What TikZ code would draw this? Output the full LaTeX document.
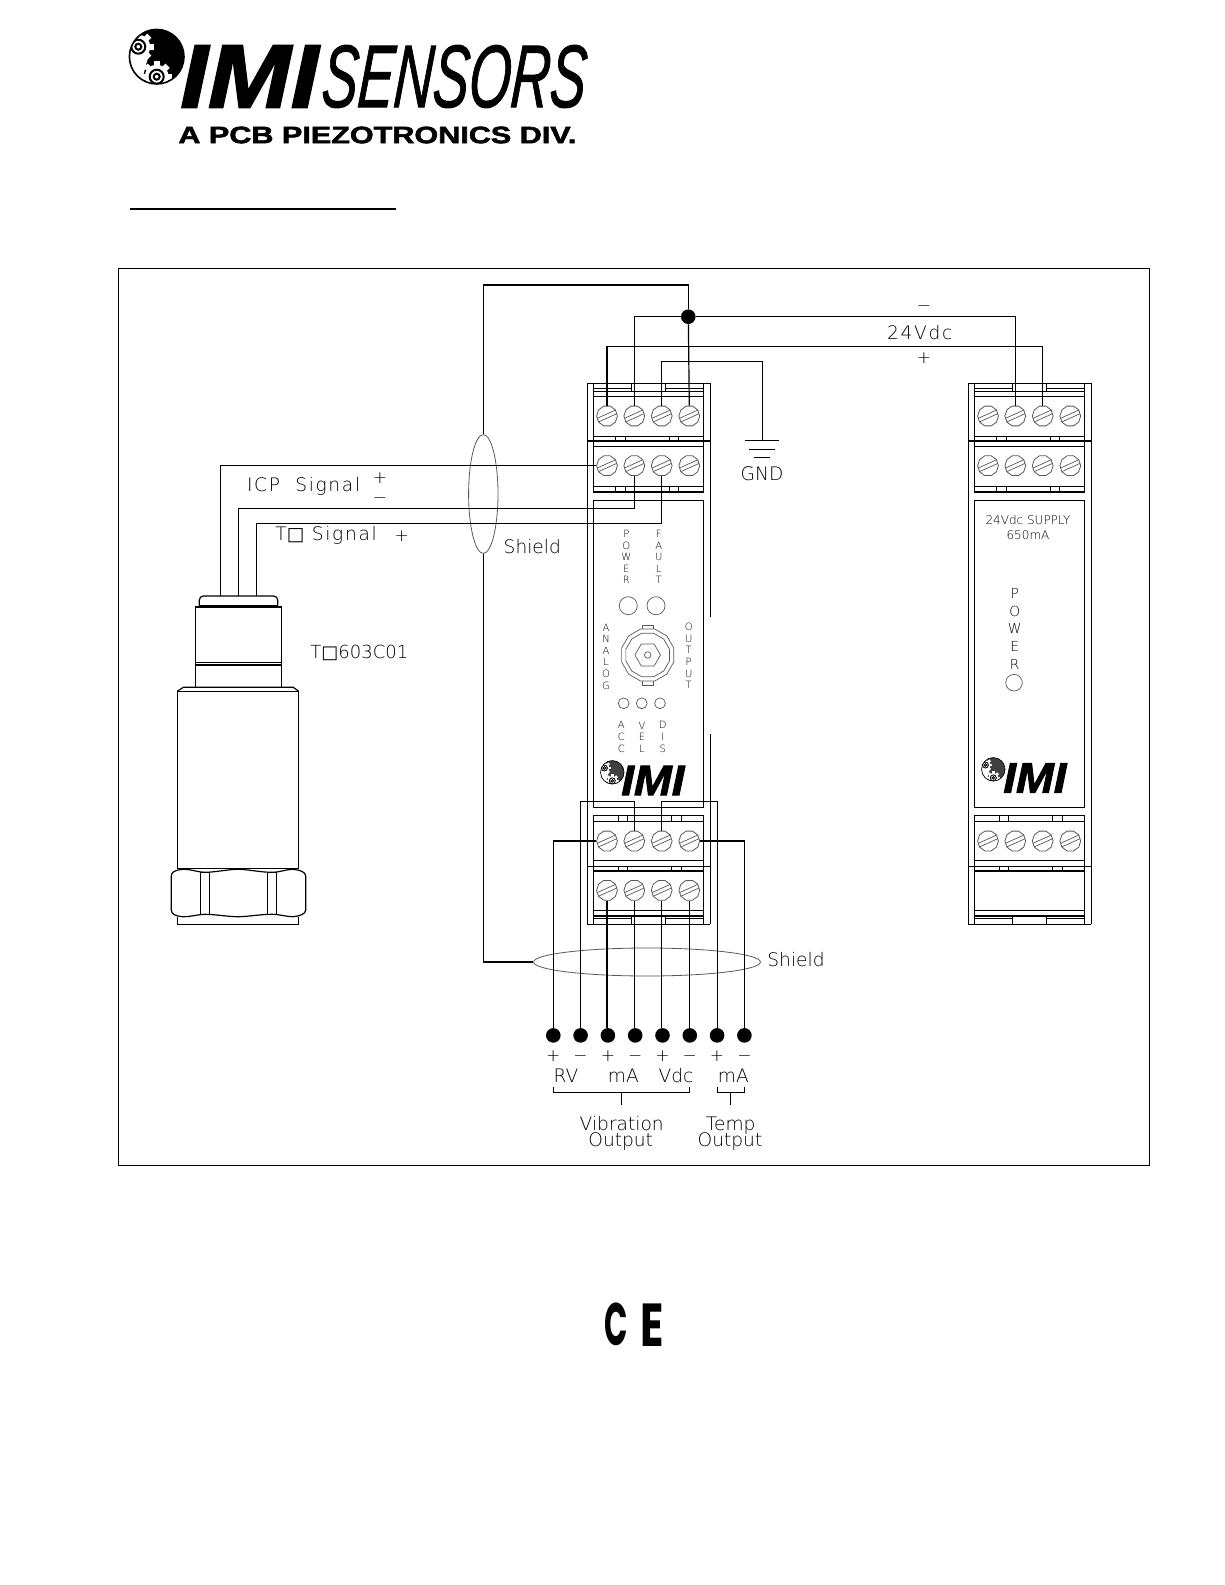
\documentclass[tikz,border=0pt]{standalone}
\usepackage{fontspec}
\setmainfont{DejaVu Sans ExtraLight}
\newfontfamily\boxfont{DejaVu Sans}
\newfontfamily\logofont[FakeBold=1.2,FakeSlant=0.12]{Liberation Sans}
\newfontfamily\imifont[FakeBold=2]{Liberation Sans}
\newfontfamily\markfont{Poppins}
\usetikzlibrary{matrix, shapes.geometric}

\newcommand{\railmodule}[2]{%
  \begin{scope}[xshift = #1*0.5pt]
    \draw[frame] (587.3,383.3) -- (710.3,383.3) (587.3,924.3) -- (710.3,924.3);
    \foreach \ly in {391.3,396.3,436.3,446.3,486.7,492,500.3,807.3,815.3,821.3,860.3,871,910.3,916}
      \draw[frame] (593.3,\ly) -- (703.7,\ly);
    \foreach \ly in {441,866.3}
      \draw[frame] (587.3,\ly) -- (710.3,\ly);
    \foreach \lx in {593.3,703.7}
      \draw[frame] (\lx,383.3) -- (\lx,492) (\lx,500.3) -- (\lx,807.3) (\lx,815.3) -- (\lx,924.3);
    \foreach \lx in {615.3,625.3,669.7,678.3}
      \draw[frame] (\lx,436.3) -- (\lx,441) (\lx,486.7) -- (\lx,492);
    \foreach \lx in {618.3,627.7,671.7,681.7}
      \draw[frame] (\lx,815.3) -- (\lx,821.3) (\lx,866.3) -- (\lx,871);
    \draw[frame] (593.3,388.3) -- (631.3,388.3) (631.3,383.3) -- (631.3,391.3)
                 (665.3,383.3) -- (665.3,391.3) (665.3,388.3) -- (703.7,388.3);
    \draw[frame] (593.3,918.3) -- (631.7,918.3) (631.7,916) -- (631.7,924.3)
                 (665.7,916) -- (665.7,924.3) (665.7,918.3) -- (703.7,918.3);
    \foreach \r/\ry in {1/416,2/465.7,3/841}
      \foreach \c/\cx in {1/607,2/634.3,3/661.7,4/689.3}
        \node[screwhead] (#2-\r-\c) at (\cx,\ry) {};
  \end{scope}}

\newcommand{\gearbadge}[4]{%
  \begin{scope}[shift = {(#1,#2)}, scale = #3]
    \begin{scope}
      \clip (0,0) circle (27.3);
      \fill[#4] (0,0) circle (27.3);
      \fill[white] (-28,-6) -- (-8,-2) -- (-16,28) -- (-28,28) -- cycle;
      \foreach \gx/\gy in {-18.4/-10,0/20} {
        \fill[white] (\gx,\gy) circle (12);
        \foreach \ga in {0,45,...,315}
          \fill[white, shift = {(\gx,\gy)}, rotate = \ga] (-3,9) rectangle (3,15.5);
        \draw[black, line width = #3*1pt] (\gx,\gy) circle (7) (\gx,\gy) circle (3);
      }
    \end{scope}
    \draw[black, line width = #3*0.8pt] (0,0) circle (27.3);
  \end{scope}}

\begin{document}
\begin{tikzpicture}[x = 0.5pt, y = -0.5pt,
    wire/.style = {line width = 0.6pt, black},
    frame/.style = {line width = 0.6pt, black},
    thin part/.style = {line width = 0.35pt, black!65},
    screwhead/.style = {regular polygon, regular polygon sides = 10, draw = black!65, line width = 0.4pt,
      minimum size = 10.4pt, inner sep = 0pt,
      path picture = {
        \draw[black!65, line width = 0.35pt] ([shift = {(-5.2pt,-3.4pt)}]path picture bounding box.center) -- ([shift = {(5.2pt,1.3pt)}]path picture bounding box.center);
        \draw[black!65, line width = 0.35pt] ([shift = {(-5.2pt,-1.3pt)}]path picture bounding box.center) -- ([shift = {(5.2pt,3.4pt)}]path picture bounding box.center);
      }},
    terminal/.style = {circle, fill = black, minimum size = 7.3pt, inner sep = 0pt},
    signmark/.style = {font = \fontsize{8.5}{9}\selectfont, minimum width = 7.3pt, inner sep = 0pt, text height = 5pt, text depth = 0pt},
    cadlabel/.style = {inner sep = 0pt, text = black, font = \fontsize{9.3}{9}\selectfont},
    widelabel/.style = {inner sep = 0pt, text = black, font = \fontsize{9.3}{9}\selectfont\addfontfeature{LetterSpace = 9}},
    signlabel/.style = {inner sep = 0pt, text = black, font = \fontsize{8.5}{9}\selectfont},
    paneltext/.style = {inner sep = 0pt, text = black, align = center, font = \fontsize{5}{5.8}\selectfont},
    led/.style = {circle, draw = black!65, line width = 0.35pt, inner sep = 0pt},
    shieldloop/.style = {ellipse, draw = black!65, line width = 0.4pt, inner sep = 0pt}]
  \useasboundingbox (0,0) rectangle (1225,1585);

  \gearbadge{156.7}{56.7}{1}{black}
  \node[anchor = west, inner sep = 0pt] (logo imi) at (180,76.5) {\resizebox{69pt}{31pt}{\imifont\bfseries\itshape IMI}};
  \node[anchor = west, inner sep = 0pt] (logo sensors) at (320,76.5) {\resizebox{132pt}{31pt}{\logofont\itshape SENSORS}};
  \node[anchor = west, inner sep = 0pt] (logo div) at (178,135) {\resizebox{199pt}{8.3pt}{\imifont\bfseries A PCB PIEZOTRONICS DIV.}};
  \draw[line width = 1pt] (130,209) -- (396,209);
  \draw[line width = 0.5pt] (118.5,268) rectangle (1149,1165);

  \railmodule{0}{a}
  \railmodule{381}{b}
  \foreach \c/\cx in {1/607,2/634.3,3/661.7,4/689.3}
    \node[screwhead] (a-4-\c) at (\cx,890.3) {};
  \draw[frame] (587.3,383.3) -- (587.3,924.3);
  \draw[frame] (710.3,383.3) -- (710.3,616.7) (710.3,734) -- (710.3,924.3);
  \draw[frame] (968.3,383.3) -- (968.3,924.3);
  \draw[frame] (1091.3,383.3) -- (1091.3,924.3);

  \node[paneltext] (a power) at (626.3,557) {P\\O\\W\\E\\R};
  \node[paneltext] (a fault) at (658.7,557) {F\\A\\U\\L\\T};
  \node[led, minimum size = 9pt] (led power) at (628.3,605.7) {};
  \node[led, minimum size = 9pt] (led fault) at (656,605.7) {};
  \node[paneltext] (a analog) at (606,656.5) {A\\N\\A\\L\\O\\G};
  \node[paneltext] (a output) at (688.7,656) {O\\U\\T\\P\\U\\T};
  \draw[thin part] (642.3,629) -- (642.3,625.3) -- (653.3,625.3) -- (653.3,629);
  \draw[thin part] (642.3,681) -- (642.3,685.7) -- (653.3,685.7) -- (653.3,681);
  \node[regular polygon, regular polygon sides = 12, draw = black!65, line width = 0.35pt, inner sep = 0pt, minimum size = 27pt] (bnc rim) at (647.7,655) {};
  \node[regular polygon, regular polygon sides = 12, draw = black!65, line width = 0.35pt, inner sep = 0pt, minimum size = 22.6pt] (bnc nut) at (647.7,655) {};
  \node[regular polygon, regular polygon sides = 6, draw = black!65, line width = 0.35pt, inner sep = 0pt, minimum size = 12.8pt] (bnc hex) at (647.7,655) {};
  \node[led, minimum size = 3.3pt] (bnc pin) at (647.7,655) {};
  \node[led, minimum size = 5.4pt] (led acc) at (623.7,703.3) {};
  \node[led, minimum size = 5.4pt] (led vel) at (641.7,703.3) {};
  \node[led, minimum size = 5.4pt] (led dis) at (660,703.3) {};
  \node[paneltext] (a acc) at (621.3,737) {A\\C\\C};
  \node[paneltext] (a vel) at (642,737) {V\\E\\L};
  \node[paneltext] (a dis) at (662.7,737) {D\\I\\S};
  \gearbadge{612.3}{772.3}{0.43}{black!75}
  \node[anchor = west, inner sep = 0pt] (a imi) at (621,780.5) {\resizebox{31.5pt}{14.6pt}{\imifont\bfseries\itshape IMI}};

  \node[inner sep = 0pt, text = black, font = \fontsize{6}{7.4}\selectfont, align = center] (b rating) at (1028,527.5) {24Vdc SUPPLY\\650mA};
  \node[paneltext, font = \fontsize{6.9}{8.85}\selectfont] (b power) at (1014.7,628.7) {P\\O\\W\\E\\R};
  \node[led, minimum size = 8.3pt] (led supply) at (1014,682.7) {};
  \gearbadge{993.3}{769.3}{0.43}{black!75}
  \node[anchor = west, inner sep = 0pt] (b imi) at (1003,778) {\resizebox{31.5pt}{14.6pt}{\imifont\bfseries\itshape IMI}};

  \draw[frame, rounded corners = 2pt] (199.3,605.3) -- (199.3,596) -- (277.7,596) -- (277.7,605.3);
  \draw[frame] (199.3,605.3) -- (277.7,605.3);
  \draw[frame] (195.3,687.3) -- (195.3,607) -- (281.7,607) -- (281.7,687.3);
  \draw[frame] (195.3,662.7) -- (281.7,662.7) (195.3,665) -- (281.7,665);
  \draw[frame] (177.3,691.3) -- (183.3,687.3) -- (293.3,687.3) -- (298.7,691.3);
  \draw[frame] (177.3,868.3) -- (177.3,691.3) -- (298.7,691.3) -- (298.7,868.3) -- cycle;
  \draw[frame] (171.3,910) -- (171.3,876) .. controls (171.3,872) and (175,870) .. (183,869.3)
    .. controls (192,869.3) and (198,872.3) .. (205,872.3) .. controls (215,872.3) and (228,869.3) .. (238,869.3)
    .. controls (248,869.3) and (260,872.3) .. (272,872.3) .. controls (280,872.3) and (286,869.3) .. (293,869.3)
    .. controls (300,870) and (305.7,872) .. (305.7,876) -- (305.7,910)
    .. controls (305.7,914) and (300,916) .. (293,916.7) .. controls (286,916.7) and (280,914.3) .. (272,914.3)
    .. controls (260,914.3) and (248,916.7) .. (238,916.7) .. controls (228,916.7) and (215,914.3) .. (205,914.3)
    .. controls (198,914.3) and (192,916.7) .. (183,916.7) .. controls (175,916) and (171.3,914) .. (171.3,910) -- cycle;
  \draw[frame] (200.3,872.3) rectangle (209.7,914.3);
  \draw[frame] (267.3,872.3) rectangle (276.7,914.3);
  \draw[frame] (177.3,916.7) -- (177.3,924.3) -- (298.7,924.3) -- (298.7,916.7);

  \coordinate (lead icp plus) at (220.7,596);
  \coordinate (lead icp minus) at (238.7,596);
  \coordinate (lead temp) at (256.7,596);
  \coordinate (run minus) at (400,508.5);
  \coordinate (run temp) at (400,523.3);
  \coordinate (rail plus) at (800,346.3);
  \coordinate (rail ground) at (700,361.3);
  \coordinate (top run) at (600,285);
  \coordinate (loop run) at (650,801.3);
  \coordinate (ground) at (762.3,440.3);
  \coordinate (shield corner) at (483.3,962);

  \node[shieldloop, minimum width = 14.7pt, minimum height = 59.4pt] (shield sensor) at (483.3,494) {};
  \node[shieldloop, minimum width = 113.4pt, minimum height = 14pt] (shield outputs) at (647,962) {};
  \node[terminal] (tie) at (688.3,316.7) {};

  \matrix (t) [matrix of nodes, nodes in empty cells, inner sep = 0pt, anchor = north, row sep = 4.35pt, column sep = 6.35pt,
      nodes = {anchor = center}, row 1/.style = {nodes = {terminal}}, row 2/.style = {nodes = {signmark}}] at (648.85,1027.7)
  {
    & & & & & & & \\
    + & − & + & − & + & − & + & − \\
  };

  \draw[wire] (a-1-4.north) -- (tie);
  \draw[wire] (tie) -- (tie |- top run) -- (shield sensor.north |- top run) -- (shield sensor.north);
  \draw[wire] (shield sensor.south) -- (shield corner) -- (shield outputs.west);
  \draw[wire] (a-1-2.north) |- (tie.west);
  \draw[wire] (tie.east) -| (b-1-2.north);
  \draw[wire] (a-1-1.north) -- (a-1-1 |- rail plus) -- (b-1-3 |- rail plus) -- (b-1-3.north);
  \draw[wire] (a-1-3.north) -- (a-1-3 |- rail ground) -- (ground |- rail ground) -- (ground);
  \draw[wire] (lead icp plus) -- (lead icp plus |- a-2-1.west) -- (a-2-1.west);
  \draw[wire] (lead icp minus) -- (lead icp minus |- run minus) -- (a-2-2 |- run minus) -- (a-2-2.south);
  \draw[wire] (lead temp) -- (lead temp |- run temp) -- (a-2-3 |- run temp) -- (a-2-3.south);
  \draw[wire] (a-3-1.west) -| (t-1-1.north);
  \draw[wire] (a-3-4.east) -| (t-1-8.north);
  \draw[wire] (a-3-2.north) -- (a-3-2 |- loop run) -- (t-1-2 |- loop run) -- (t-1-2.north);
  \draw[wire] (a-3-3.north) -- (a-3-3 |- loop run) -- (t-1-7 |- loop run) -- (t-1-7.north);
  \foreach \c/\j in {1/3,2/4,3/5,4/6}
    \draw[wire] (a-4-\c.south) -- (a-4-\c.south |- t-1-\j.north);

  \draw[frame] (745,440.3) -- (779,440.3) (749,449.3) -- (775,449.3) (754,457.3) -- (770,457.3);
  \node[cadlabel] (gnd label) at (762,473.3) {GND};
  \node[widelabel] (supply label) at (919.7,332.5) {24Vdc};
  \node[signlabel] (supply minus) at (924,309) {−};
  \node[signlabel] (supply plus) at (924,358) {+};
  \node[widelabel, anchor = west] (icp label) at (246.7,486.7) {ICP\ \ Signal};
  \node[signlabel] (icp plus) at (380,477.7) {+};
  \node[signlabel] (icp minus) at (380,500.3) {−};
  \node[widelabel, anchor = west] (temp label) at (275,535.7) {T{\boxfont □} Signal};
  \node[signlabel] (temp plus) at (401.7,535.7) {+};
  \node[cadlabel, anchor = west] (shield label a) at (503.3,546.7) {Shield};
  \node[cadlabel, anchor = west] (shield label b) at (767,960) {Shield};
  \node[cadlabel, anchor = west, font = \fontsize{9}{9}\selectfont] (model label) at (310,653.3) {T{\boxfont □}603C01};

  \node[cadlabel] (out rv) at (566,1076) {RV};
  \node[cadlabel] (out ma) at (623.3,1076) {mA};
  \node[cadlabel] (out vdc) at (676,1076) {Vdc};
  \node[cadlabel] (out tma) at (733.3,1076) {mA};
  \draw[frame] (t-1-1 |- 0,1087.3) |- (t-1-6 |- 0,1092.3) -- (t-1-6 |- 0,1087.3);
  \draw[frame] (t-1-7 |- 0,1087.3) |- (t-1-8 |- 0,1092.3) -- (t-1-8 |- 0,1087.3);
  \draw[frame] (621.3,1092.3) -- (621.3,1105.3) (730.3,1092.3) -- (730.3,1105.3);
  \node[cadlabel, anchor = base] (vibration label) at (621.7,1130) {Vibration};
  \node[cadlabel, anchor = base] (vibration output) at (620.7,1146.7) {Output};
  \node[cadlabel, anchor = base] (temp label) at (730.7,1130) {Temp};
  \node[cadlabel, anchor = base] (temp output) at (730,1146.7) {Output};

  \node[inner sep = 0pt] (ce c) at (616.5,1324.7) {\resizebox{11.7pt}{21.3pt}{\markfont\bfseries C}};
  \node[inner sep = 0pt] (ce e) at (651.7,1324.7) {\resizebox{11.7pt}{21.3pt}{\markfont\bfseries E}};
\end{tikzpicture}
\end{document}
